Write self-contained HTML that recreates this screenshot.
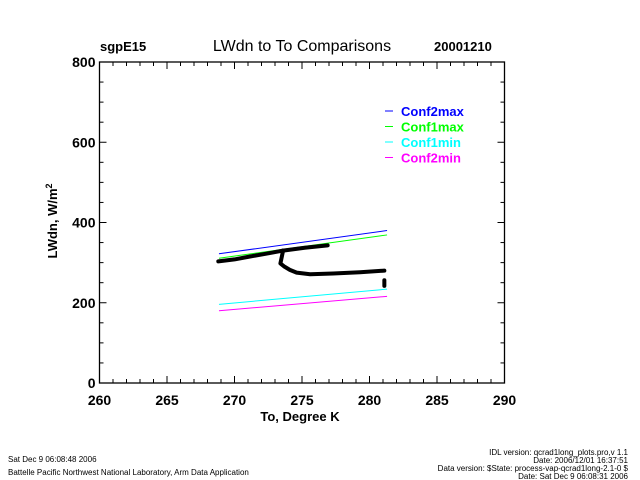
<!DOCTYPE html>
<html><head><meta charset="utf-8"><style>
html,body{margin:0;padding:0;background:#fff;}
svg{display:block;font-family:"Liberation Sans",sans-serif;}
</style></head><body>
<svg id="chart" width="640" height="480" viewBox="0 0 640 480">
<text x="100" y="51" font-size="13" font-weight="bold">sgpE15</text>
<text x="302" y="51" font-size="16" text-anchor="middle">LWdn to To Comparisons</text>
<text x="434" y="51" font-size="13" font-weight="bold">20001210</text>
<g id="axes"></g>
<g id="series"></g>
<g id="legend"></g>
<text x="300" y="421" font-size="13" font-weight="bold" text-anchor="middle">To, Degree K</text>
<text transform="translate(57,221) rotate(-90)" font-size="13" font-weight="bold" text-anchor="middle">LWdn, W/m<tspan font-size="9" dy="-5">2</tspan></text>
<text x="8" y="462" font-size="8">Sat Dec  9 06:08:48 2006</text>
<text x="8" y="475" font-size="8">Battelle Pacific Northwest National Laboratory, Arm Data Application</text>
<text x="628" y="455" font-size="8" text-anchor="end">IDL version: qcrad1long_plots.pro,v 1.1</text>
<text x="628" y="463" font-size="8" text-anchor="end">Date: 2006/12/01 16:37:51</text>
<text x="628" y="471" font-size="8" text-anchor="end">Data version: $State: process-vap-qcrad1long-2.1-0 $</text>
<text x="628" y="479" font-size="8" text-anchor="end">Date: Sat Dec  9 06:08:31 2006</text>
</svg>
<script>
const xTicks=[260,265,270,275,280,285,290];
const yTicks=[0,200,400,600,800];
const seriesNames=["Conf2max","Conf1max","Conf1min","Conf2min"];
const seriesColors=["#0000ff","#00ff00","#00ffff","#ff00ff"];
const lineX=[268.85,281.3];
const conf2max=[322,380];
const conf1max=[311,369];
const conf1min=[196,234];
const conf2min=[180,216];
const obsX=[268.8,270,271.1,272.3,273.6,275.2,276.9];
const obsY=[303,308,315,322,330,337,343];
const obs2X=[273.6,273.4,273.7,274.1,274.6,275.6,277.3,279.3,281.1];
const obs2Y=[330,298,290,282,275,271,273,276,280];
const obs3X=[281.1,281.1];
const obs3Y=[242,256];
const X0=99.5,X1=504.5,Y0=383,Y1=62;
const sx=v=>X0+(v-260)/30*(X1-X0);
const sy=v=>Y0-(v/800)*(Y0-Y1);
const NS="http://www.w3.org/2000/svg";
function mk(t,a,p){const e=document.createElementNS(NS,t);for(const k in a)e.setAttribute(k,a[k]);p.appendChild(e);return e;}
const ax=document.getElementById('axes');
let r=mk('rect',{x:X0,y:Y1,width:X1-X0,height:Y0-Y1,fill:'none',stroke:'#000','stroke-width':1.3},ax);


for(let v=260;v<=290;v++){const big=v%5===0;const L=big?7:4;
mk('line',{x1:sx(v),x2:sx(v),y1:Y0,y2:Y0-L,stroke:'#000'},ax);
mk('line',{x1:sx(v),x2:sx(v),y1:Y1,y2:Y1+L,stroke:'#000'},ax);}
for(let v=0;v<=800;v+=50){const big=v%200===0;const L=big?7:4;
mk('line',{x1:X0,x2:X0+L,y1:sy(v),y2:sy(v),stroke:'#000'},ax);
mk('line',{x1:X1,x2:X1-L,y1:sy(v),y2:sy(v),stroke:'#000'},ax);}
xTicks.forEach(v=>{const t=mk('text',{x:sx(v),y:Y0+22,'font-size':14,'font-weight':'bold','text-anchor':'middle'},ax);t.textContent=v;

});
yTicks.forEach(v=>{const t=mk('text',{x:X0-4,y:sy(v)+5,'font-size':14,'font-weight':'bold','text-anchor':'end'},ax);t.textContent=v;

});
const sg=document.getElementById('series');
[conf2max,conf1max,conf1min,conf2min].forEach((d,i)=>{
const l=mk('line',{x1:sx(lineX[0]),y1:sy(d[0]),x2:sx(lineX[1]),y2:sy(d[1]),stroke:seriesColors[i],'stroke-width':1},sg);

});
function poly(xs,ys,name){const p=mk('polyline',{points:xs.map((x,i)=>sx(x)+','+sy(ys[i])).join(' '),fill:'none',stroke:'#000','stroke-width':4,'stroke-linejoin':'round','stroke-linecap':'round'},sg);

}
poly(obsX,obsY,'observed-upper');
poly(obs2X,obs2Y,'observed-lower');
poly(obs3X,obs3Y,'observed-end');
const lg=document.getElementById('legend');
seriesNames.forEach((n,i)=>{const y=111+i*15.5;
const l=mk('line',{x1:385,x2:393,y1:y,y2:y,stroke:seriesColors[i]},lg);


const t=mk('text',{x:401,y:y+5,'font-size':13,'font-weight':'bold',fill:seriesColors[i]},lg);t.textContent=n;

});
</script>
</body></html>
